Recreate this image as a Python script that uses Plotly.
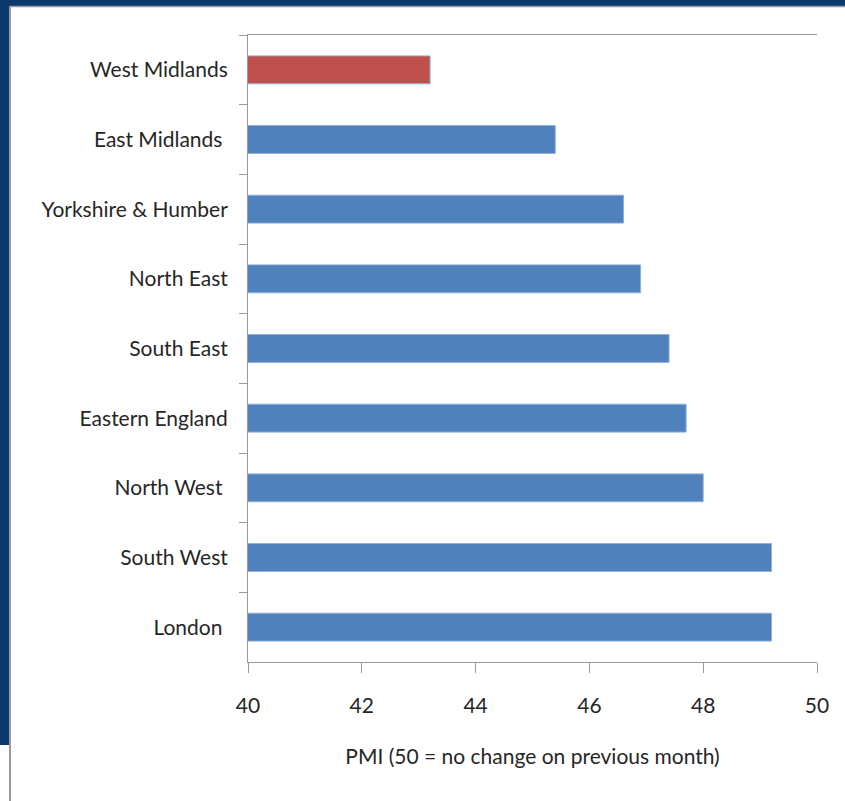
import plotly.graph_objects as go

regions = ["West Midlands", "East Midlands\u00a0", "Yorkshire & Humber", "North East",
           "South East", "Eastern England", "North West\u00a0", "South West", "London\u00a0"]
pmi = [43.2, 45.4, 46.6, 46.9, 47.4, 47.7, 48.0, 49.2, 49.2]
bar_colors = ["#C0504D"] + ["#4F81BD"] * 8
x_ticks = [40, 42, 44, 46, 48, 50]
x_title = "PMI (50 = no change on previous month)"

W, H = 845, 801
L, R, T, B = 248, 28, 35, 139
pw, ph = W - L - R, H - T - B

def px(x):
    return (x - L) / pw

def py(y):
    return (H - B - y) / ph

FONT = "Lato"
FS = 21
TXT = "#262626"

fig = go.Figure(go.Bar(
    x=pmi, y=regions, orientation="h",
    marker=dict(color=bar_colors, line=dict(color="#8fb0da", width=1)),
    width=0.4,
))

navy = "#0b3a6f"
shapes = [
    dict(type="rect", xref="paper", yref="paper", x0=px(0), x1=px(W), y0=py(6), y1=py(0),
         fillcolor=navy, line=dict(width=0), layer="above"),
    dict(type="rect", xref="paper", yref="paper", x0=px(0), x1=px(9), y0=py(745), y1=py(0),
         fillcolor=navy, line=dict(width=0), layer="above"),
    dict(type="line", xref="paper", yref="paper", x0=px(10), x1=px(10), y0=py(6), y1=py(H),
         line=dict(color="#9a9a9a", width=2), layer="above"),
    dict(type="line", xref="paper", yref="paper", x0=px(10), x1=px(W), y0=py(6.5), y1=py(6.5),
         line=dict(color="#9a9a9a", width=1.5), layer="above"),
]

fig.update_layout(
    width=W, height=H,
    margin=dict(l=L, r=R, t=T, b=B),
    paper_bgcolor="white", plot_bgcolor="white",
    showlegend=False,
    shapes=shapes,
    font=dict(family=FONT, size=FS, color=TXT),
    xaxis=dict(
        range=[40, 50], tickvals=x_ticks, ticktext=[str(v) for v in x_ticks],
        showgrid=False, zeroline=False,
        showline=True, linecolor="#9a9a9a", linewidth=1, mirror=True,
        ticks="outside", ticklen=10, tickcolor="#9a9a9a",
        ticklabelstandoff=15,
        tickfont=dict(family=FONT, size=FS, color=TXT),
        title=dict(text=x_title, standoff=33, font=dict(family=FONT, size=FS, color=TXT)),
    ),
    yaxis=dict(
        autorange="reversed",
        showgrid=False, zeroline=False,
        showline=True, linecolor="#9a9a9a", linewidth=1,
        ticks="outside", ticklen=8, tickcolor="#9a9a9a", tickson="boundaries",
        ticklabelstandoff=15,
        tickfont=dict(family=FONT, size=FS, color=TXT),
    ),
)

fig.write_html("out.html", config={"displayModeBar": False},
               post_script="document.body.style.margin='0';")
